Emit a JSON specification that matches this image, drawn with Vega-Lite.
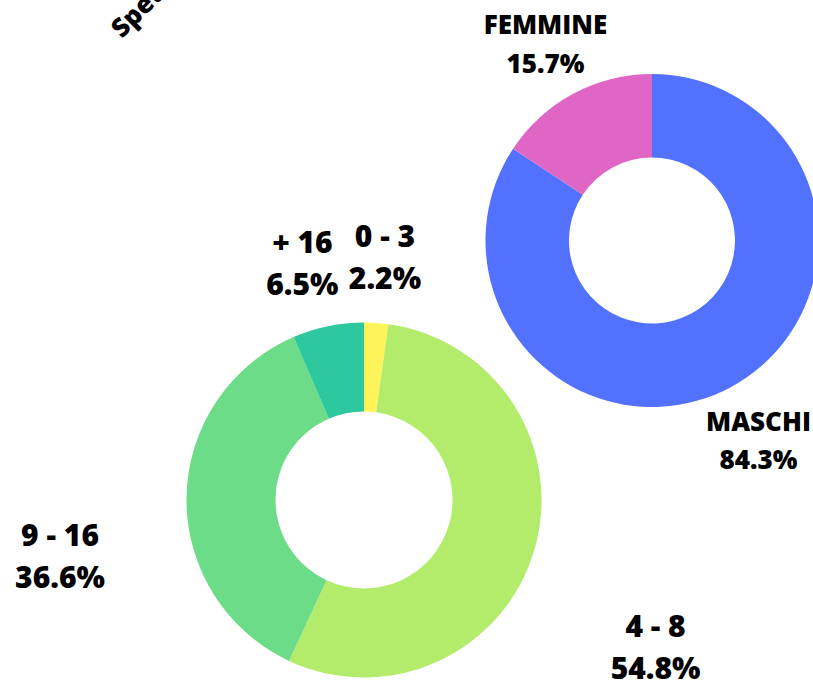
{
  "$schema": "https://vega.github.io/schema/vega-lite/v6.json",
  "autosize": {"type": "none"},
  "width": 813,
  "height": 681,
  "padding": 0,
  "background": "white",
  "config": {"view": {"stroke": null}, "font": "Open Sans"},
  "title": {
    "text": "Spettatori per età",
    "orient": "none",
    "anchor": "start",
    "angle": -45,
    "dx": 58.7,
    "dy": 113.9,
    "baseline": "alphabetic",
    "font": "Open Sans",
    "fontSize": 26,
    "fontWeight": 800,
    "color": "black"
  },
  "datasets": {
    "genere": [
      {"grafico": "genere", "categoria": "MASCHI", "valore": 84.3, "etichetta": "84.3%", "ordine": 1},
      {"grafico": "genere", "categoria": "FEMMINE", "valore": 15.7, "etichetta": "15.7%", "ordine": 2}
    ],
    "eta": [
      {"grafico": "età", "categoria": "0 - 3", "valore": 2.2, "etichetta": "2.2%", "ordine": 1},
      {"grafico": "età", "categoria": "4 - 8", "valore": 54.8, "etichetta": "54.8%", "ordine": 2},
      {"grafico": "età", "categoria": "9 - 16", "valore": 36.6, "etichetta": "36.6%", "ordine": 3},
      {"grafico": "età", "categoria": "+ 16", "valore": 6.5, "etichetta": "6.5%", "ordine": 4}
    ]
  },
  "encoding": {
    "x": {"field": "grafico", "type": "nominal", "axis": null,
      "scale": {"type": "point", "domain": ["età", "genere"], "range": [364, 652], "padding": 0}},
    "y": {"field": "grafico", "type": "nominal", "axis": null,
      "scale": {"type": "point", "domain": ["età", "genere"], "range": [500, 240.5], "padding": 0}},
    "theta": {"field": "valore", "type": "quantitative", "stack": true},
    "order": {"field": "ordine", "type": "quantitative"},
    "color": {"field": "categoria", "type": "nominal", "legend": null,
      "scale": {"domain": ["MASCHI", "FEMMINE", "0 - 3", "4 - 8", "9 - 16", "+ 16"],
        "range": ["#5271FF", "#E066C6", "#FFF35A", "#B2EC6A", "#6CDC88", "#2EC89F"]}}
  },
  "layer": [
    {
      "data": {"name": "genere"},
      "layer": [
        {"mark": {"type": "arc", "radius": 166.5, "radius2": 83}},
        {"mark": {"type": "text", "radius": 225, "dy": -16, "fontSize": 26, "fontWeight": 800, "font": "Open Sans", "color": "black", "baseline": "middle", "align": "center"},
          "encoding": {"text": {"field": "categoria"}, "color": {"value": "black"}}},
        {"mark": {"type": "text", "radius": 225, "dy": 22.5, "fontSize": 26, "fontWeight": 800, "font": "Open Sans", "color": "black", "baseline": "middle", "align": "center"},
          "encoding": {"text": {"field": "etichetta"}, "color": {"value": "black"}}}
      ]
    },
    {
      "data": {"name": "eta"},
      "layer": [
        {"mark": {"type": "arc", "radius": 177.5, "radius2": 88.5}},
        {"mark": {"type": "text", "radius": 304, "dy": 41.7, "fontSize": 30, "fontWeight": 800, "font": "Open Sans", "color": "black", "baseline": "middle", "align": "center"},
          "encoding": {"text": {"field": "categoria"}, "color": {"value": "black"}}},
        {"mark": {"type": "text", "radius": 304, "dy": 83.7, "fontSize": 30, "fontWeight": 800, "font": "Open Sans", "color": "black", "baseline": "middle", "align": "center"},
          "encoding": {"text": {"field": "etichetta"}, "color": {"value": "black"}}}
      ]
    }
  ],
  "resolve": {"scale": {"theta": "independent"}}
}
